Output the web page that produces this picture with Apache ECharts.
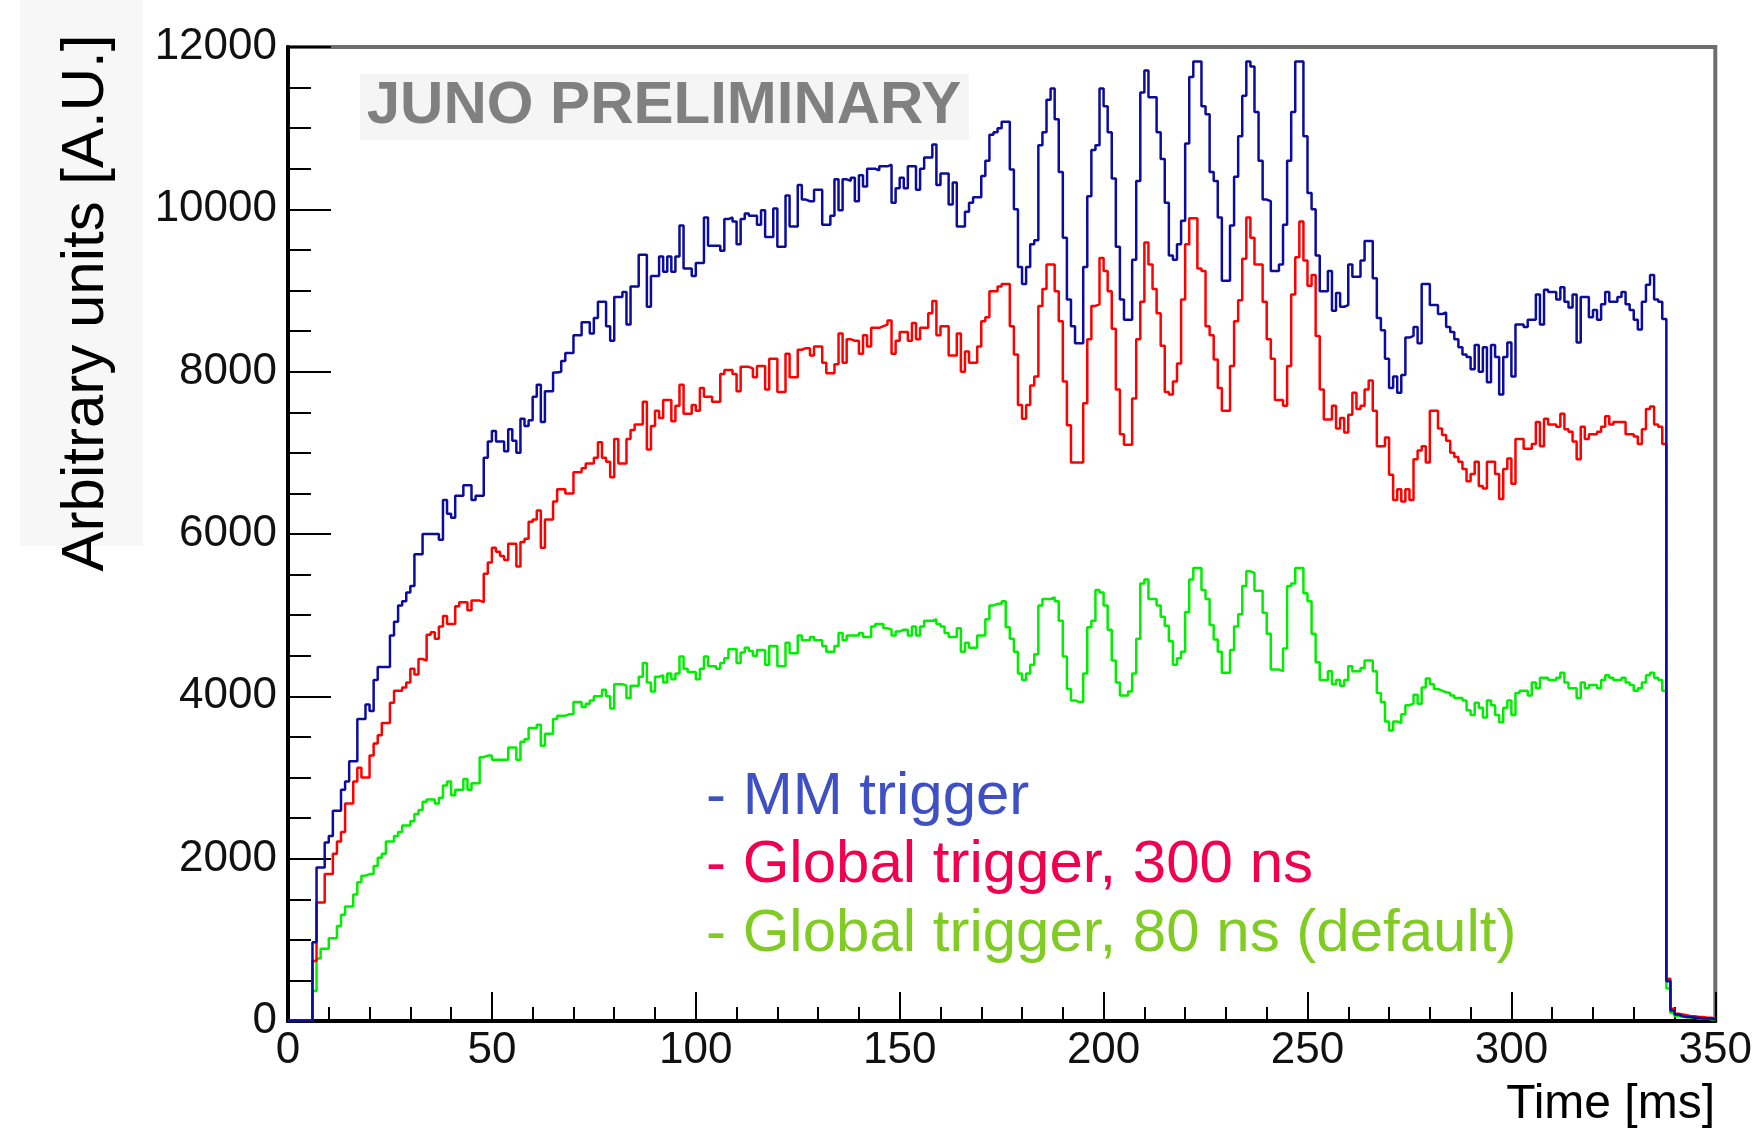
<!DOCTYPE html>
<html>
<head>
<meta charset="utf-8">
<title>JUNO trigger rate</title>
<script src="https://cdn.jsdelivr.net/npm/echarts@6/dist/echarts.min.js"></script>
<style>
    html, body { margin: 0; padding: 0; background: #ffffff; }
    #chart { width: 1755px; height: 1133px; }
</style>
</head>
<body>
<div id="chart"></div>
<script>
// histogram bins, 1 ms wide, starting at 0 ms
var binStart = 0;
var binWidth = 1;

var mmTrigger = [
    0, 0, 0, 0, 0, 0, 970, 1890, 1890, 2200,
    2280, 2590, 2590, 2850, 2950, 3200, 3200, 3720, 3720, 3900,
    3820, 4200, 4360, 4360, 4360, 4750, 4920, 5120, 5170, 5280,
    5360, 5750, 5750, 6000, 6000, 6000, 6000, 5930, 6420, 6250,
    6200, 6470, 6470, 6600, 6600, 6420, 6470, 6470, 6940, 7140,
    7270, 7140, 7140, 7020, 7290, 7150, 7000, 7420, 7330, 7400,
    7690, 7840, 7380, 7760, 7760, 7990, 8000, 8130, 8230, 8230,
    8450, 8450, 8610, 8610, 8470, 8660, 8860, 8860, 8560, 8380,
    8920, 8920, 8980, 8580, 9050, 9050, 9440, 9440, 8800, 9180,
    9180, 9420, 9230, 9420, 9230, 9420, 9800, 9270, 9270, 9180,
    9340, 9340, 9900, 9550, 9550, 9550, 9490, 9880, 9900, 9850,
    9570, 9880, 9950, 9920, 9920, 9810, 9990, 9660, 9660, 10010,
    9540, 9540, 10170, 9790, 9790, 10300, 10120, 10100, 10100, 10240,
    10240, 9810, 9810, 9920, 10370, 9990, 10370, 10350, 10390, 10100,
    10420, 10280, 10500, 10500, 10480, 10530, 10530, 10550, 10080, 10260,
    10390, 10260, 10530, 10530, 10240, 10500, 10640, 10640, 10800, 10300,
    10440, 10440, 10060, 10330, 9790, 9790, 9970, 10080, 10150, 10150,
    10410, 10600, 10920, 10950, 11000, 11080, 11080, 10490, 10000, 9290,
    9080, 9290, 9570, 9620, 10790, 10950, 11350, 11490, 11110, 10460,
    9650, 8890, 8560, 8350, 8350, 9290, 10160, 10730, 10790, 11490,
    11270, 10950, 10380, 9540, 8890, 8640, 8640, 9380, 10350, 11440,
    11710, 11380, 11380, 10950, 10620, 10080, 9430, 9380, 9570, 9860,
    10810, 11630, 11820, 11820, 11270, 11170, 10460, 10350, 9900, 9120,
    9120, 9800, 10400, 10900, 11400, 11820, 11760, 11200, 10600, 10120,
    10100, 9240, 9240, 9320, 9810, 10600, 11200, 11820, 11820, 10900,
    10200, 10000, 9430, 8990, 8990, 9240, 8750, 8970, 8800, 8820,
    9320, 9170, 9170, 9370, 9610, 9610, 9150, 8660, 8510, 8160,
    7800, 7940, 7740, 7960, 8420, 8440, 8550, 8350, 9080, 9080,
    8820, 8820, 8710, 8730, 8550, 8490, 8400, 8300, 8210, 8180,
    8030, 8330, 8000, 8300, 7870, 8330, 8180, 7720, 8180, 8360,
    7940, 8580, 8580, 8550, 8640, 8640, 8950, 8580, 9010, 8980,
    8980, 8890, 9040, 8860, 8790, 8950, 8360, 8920, 8920, 8670,
    8760, 8640, 8830, 8980, 8860, 8860, 8920, 8980, 8830, 8760,
    8640, 8520, 8860, 9070, 9190, 8890, 8860, 8650, 490, 130,
    80, 60, 50, 50, 40, 40, 30, 30, 30, 20
];

var global300 = [
    0, 0, 0, 0, 0, 0, 740, 1460, 1460, 1810,
    1810, 2060, 2210, 2330, 2680, 2680, 2950, 3120, 3000, 3000,
    3270, 3420, 3520, 3670, 3670, 3920, 4070, 4070, 4110, 4170,
    4340, 4270, 4460, 4440, 4760, 4790, 4710, 4860, 4990, 4890,
    4890, 5110, 5160, 5160, 5060, 5180, 5180, 5160, 5510, 5650,
    5830, 5780, 5730, 5680, 5880, 5880, 5600, 5900, 5940, 6150,
    6180, 6290, 5830, 6180, 6180, 6400, 6550, 6550, 6500, 6500,
    6760, 6760, 6810, 6870, 6870, 6940, 7130, 6940, 6890, 6700,
    7170, 6870, 6870, 7170, 7280, 7350, 7350, 7630, 7040, 7330,
    7520, 7430, 7650, 7650, 7390, 7580, 7840, 7480, 7480, 7590,
    7520, 7800, 7690, 7690, 7630, 7630, 7970, 8020, 8020, 7970,
    7760, 8060, 8060, 8040, 7930, 8070, 8070, 7780, 8160, 8160,
    7750, 7750, 8220, 7930, 7930, 8270, 8290, 8290, 8200, 8310,
    8310, 8110, 7980, 7980, 8090, 8470, 8110, 8400, 8380, 8380,
    8220, 8450, 8310, 8540, 8540, 8560, 8580, 8630, 8220, 8380,
    8490, 8490, 8380, 8600, 8400, 8540, 8540, 8720, 8870, 8450,
    8560, 8560, 8200, 8200, 8470, 8000, 8250, 8110, 8110, 8310,
    8620, 8670, 8990, 8990, 9050, 9080, 9080, 8560, 8210, 7590,
    7420, 7590, 7830, 7940, 8810, 9020, 9320, 9320, 8990, 8620,
    7880, 7340, 6880, 6880, 6880, 7610, 8400, 8810, 8830, 9400,
    9240, 8990, 8530, 7780, 7230, 7100, 7100, 7670, 8400, 8860,
    9590, 9320, 9020, 8720, 8320, 7750, 7720, 7880, 8100, 8890,
    9570, 9890, 9890, 9270, 9240, 8560, 8450, 8150, 7800, 7520,
    7520, 8070, 8620, 8880, 9390, 9900, 9650, 9320, 9320, 8860,
    8400, 8160, 7650, 7650, 7580, 8070, 8950, 9410, 9850, 9370,
    9060, 9190, 8440, 7780, 7410, 7410, 7580, 7300, 7430, 7250,
    7470, 7740, 7540, 7580, 7780, 7890, 7520, 7080, 7080, 7190,
    6730, 6420, 6550, 6400, 6550, 6420, 6920, 7030, 7080, 6880,
    7520, 7520, 7300, 7220, 7150, 7000, 6950, 6890, 6800, 6650,
    6740, 6890, 6590, 6560, 6890, 6890, 6740, 6430, 6800, 6930,
    6620, 7170, 7170, 7050, 7050, 7110, 7380, 7080, 7420, 7350,
    7350, 7320, 7480, 7290, 7260, 7140, 6920, 7320, 7170, 7230,
    7230, 7260, 7320, 7450, 7350, 7380, 7380, 7380, 7230, 7230,
    7200, 7110, 7290, 7540, 7570, 7350, 7320, 7110, 520, 150,
    90, 80, 70, 60, 60, 50, 50, 40, 40, 30
];

var global80 = [
    0, 0, 0, 0, 0, 0, 370, 770, 890, 890,
    1020, 1020, 1170, 1310, 1410, 1410, 1560, 1710, 1790, 1810,
    1810, 1910, 2010, 2060, 2210, 2210, 2280, 2330, 2410, 2410,
    2460, 2550, 2600, 2700, 2730, 2730, 2680, 2750, 2900, 2950,
    2780, 2850, 2850, 2980, 2850, 2930, 2930, 3250, 3270, 3270,
    3220, 3220, 3220, 3220, 3370, 3370, 3220, 3440, 3470, 3610,
    3610, 3650, 3390, 3540, 3540, 3720, 3760, 3760, 3780, 3780,
    3930, 3930, 3870, 3910, 3950, 4000, 4000, 4080, 4000, 3850,
    4150, 4150, 4130, 3980, 4130, 4130, 4240, 4410, 4170, 4060,
    4240, 4260, 4170, 4280, 4210, 4280, 4490, 4340, 4300, 4300,
    4210, 4340, 4490, 4370, 4370, 4340, 4410, 4470, 4580, 4580,
    4410, 4540, 4600, 4560, 4500, 4570, 4570, 4390, 4620, 4620,
    4370, 4370, 4660, 4530, 4530, 4750, 4690, 4690, 4730, 4690,
    4690, 4620, 4550, 4550, 4620, 4780, 4690, 4750, 4750, 4750,
    4780, 4730, 4730, 4860, 4890, 4890, 4840, 4820, 4750, 4800,
    4820, 4820, 4750, 4860, 4750, 4860, 4930, 4930, 4950, 4890,
    4860, 4780, 4730, 4730, 4840, 4550, 4660, 4600, 4600, 4750,
    4750, 4950, 5120, 5140, 5140, 5170, 4850, 4710, 4550, 4280,
    4200, 4280, 4390, 4520, 5120, 5200, 5200, 5220, 5170, 4930,
    4490, 4090, 3950, 3930, 3930, 4280, 4850, 4930, 5310, 5280,
    5120, 4820, 4440, 4170, 4010, 4010, 4060, 4280, 4710, 5390,
    5440, 5200, 5200, 5120, 4980, 4870, 4680, 4390, 4470, 4550,
    5040, 5440, 5580, 5580, 5310, 5200, 4880, 4700, 4550, 4290,
    4290, 4570, 4860, 5010, 5360, 5540, 5520, 5300, 5300, 5030,
    4770, 4330, 4330, 4310, 4590, 5360, 5390, 5580, 5580, 5270,
    5170, 4770, 4420, 4200, 4200, 4310, 4150, 4200, 4130, 4200,
    4370, 4310, 4310, 4350, 4440, 4440, 4310, 4040, 3930, 3690,
    3580, 3690, 3670, 3780, 3890, 3910, 4020, 3910, 4110, 4220,
    4150, 4090, 4070, 4050, 4040, 4010, 3980, 3980, 3950, 3830,
    3770, 3920, 3860, 3740, 3950, 3890, 3770, 3680, 3860, 3950,
    3770, 4040, 4070, 4070, 4010, 4170, 4100, 4230, 4230, 4200,
    4200, 4230, 4290, 4170, 4100, 4100, 3980, 4170, 4100, 4140,
    4140, 4100, 4200, 4260, 4230, 4200, 4200, 4230, 4170, 4140,
    4070, 4100, 4170, 4260, 4290, 4230, 4200, 4070, 400, 100,
    60, 50, 50, 40, 40, 30, 30, 30, 20, 20
];

var seriesNames = ['MM trigger', 'Global trigger, 300 ns', 'Global trigger, 80 ns (default)'];
var legendLines = ['- MM trigger', '- Global trigger, 300 ns', '- Global trigger, 80 ns (default)'];
var legendColors = ['#3f50c2', '#f0004f', '#80cc22'];
var lineColors = ['#0c0c9c', '#ff0000', '#00ee00'];

var xRange = [0, 350];
var yRange = [0, 12000];

var FONT = 'Liberation Sans, Arial, Helvetica, sans-serif';

var trigger_chart = {
    // bin contents -> corner points for a step line (left edge of each bin)
    to_steps: function (values) {
        var pts = [];
        for (var i = 0; i < values.length; i++) {
            pts.push([binStart + i * binWidth, values[i]]);
        }
        pts.push([binStart + values.length * binWidth, values[values.length - 1]]);
        return pts;
    },

    make_series: function (name, values, color, z) {
        return {
            name: name,
            type: 'line',
            step: 'end',
            data: trigger_chart.to_steps(values),
            symbol: 'none',
            silent: true,
            z: z,
            lineStyle: { color: color, width: 2.5 },
            itemStyle: { color: color }
        };
    },

    render: function () {
        var myChart = echarts.init(document.getElementById('chart'));

        var legendText = legendLines.map(function (t, i) {
            return {
                type: 'text',
                x: 706,
                y: 797 + i * 68.5,
                z: 10,
                style: {
                    text: t,
                    fill: legendColors[i],
                    fontSize: 60,
                    fontFamily: FONT,
                    align: 'left',
                    verticalAlign: 'middle'
                }
            };
        });

        var option = {
            backgroundColor: '#ffffff',
            animation: false,
            grid: {
                left: 288,
                right: 39,
                top: 47,
                bottom: 112,
                show: true,
                borderColor: '#6e6e6e',
                borderWidth: 4,
                backgroundColor: 'transparent'
            },
            xAxis: {
                type: 'value',
                min: xRange[0],
                max: xRange[1],
                interval: 50,
                axisLine: { lineStyle: { color: '#000', width: 4 } },
                axisTick: { inside: true, length: 29, lineStyle: { color: '#000', width: 2 } },
                minorTick: { show: true, splitNumber: 5, length: 14, lineStyle: { color: '#000', width: 2 } },
                splitLine: { show: false },
                axisLabel: {
                    fontSize: 44,
                    color: '#111',
                    fontFamily: FONT,
                    margin: 8,
                    formatter: function (v) { return String(v); }
                }
            },
            yAxis: {
                type: 'value',
                min: yRange[0],
                max: yRange[1],
                interval: 2000,
                axisLine: { lineStyle: { color: '#000', width: 4 } },
                axisTick: { inside: true, length: 43, lineStyle: { color: '#000', width: 2 } },
                minorTick: { show: true, splitNumber: 4, length: 23, lineStyle: { color: '#000', width: 2 } },
                splitLine: { show: false },
                axisLabel: {
                    fontSize: 44,
                    color: '#111',
                    fontFamily: FONT,
                    margin: 11,
                    formatter: function (v) { return String(v); }
                }
            },
            graphic: [
                // light boxes behind the y title and the watermark
                { type: 'rect', z: -5, shape: { x: 20, y: 0, width: 123, height: 546 }, style: { fill: '#f7f7f7' } },
                { type: 'rect', z: -5, shape: { x: 360, y: 74, width: 609, height: 66 }, style: { fill: '#f5f5f5' } },
                {
                    type: 'text', x: 664, y: 106, z: 10,
                    style: {
                        text: 'JUNO PRELIMINARY', fill: '#808080', fontSize: 60, fontWeight: 'bold',
                        fontFamily: FONT, align: 'center', verticalAlign: 'middle'
                    }
                },
                {
                    type: 'text', x: 86, y: 303, rotation: Math.PI / 2, z: 10,
                    style: {
                        text: 'Arbitrary units [A.U.]', fill: '#000', fontSize: 60,
                        fontFamily: FONT, align: 'center', verticalAlign: 'middle'
                    }
                },
                {
                    type: 'text', x: 1715, y: 1105, z: 10,
                    style: {
                        text: 'Time [ms]', fill: '#000', fontSize: 48,
                        fontFamily: FONT, align: 'right', verticalAlign: 'middle'
                    }
                }
            ].concat(legendText),
            series: [
                trigger_chart.make_series(seriesNames[2], global80, lineColors[2], 2),
                trigger_chart.make_series(seriesNames[1], global300, lineColors[1], 3),
                trigger_chart.make_series(seriesNames[0], mmTrigger, lineColors[0], 4)
            ]
        };

        myChart.setOption(option);

        window.addEventListener('resize', function () {
            myChart.resize();
        });
    }
};

trigger_chart.render();
</script>
</body>
</html>
